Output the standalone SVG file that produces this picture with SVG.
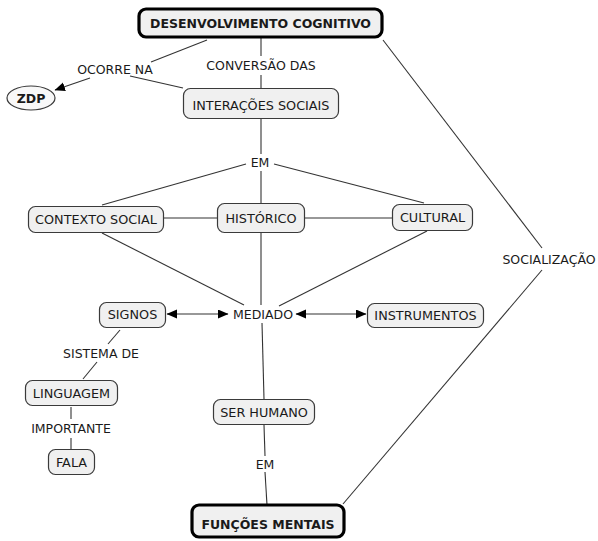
<svg xmlns="http://www.w3.org/2000/svg" width="598" height="541" viewBox="0 0 598 541">
<style>
.n rect, .n ellipse { fill: #f0f0f0; stroke: #3a3a3a; stroke-width: 1.2; }
.n ellipse { fill: #f8f8f8; }
.main rect { stroke: #000; stroke-width: 3.2; }
text { font-family: "DejaVu Sans", Verdana, sans-serif; font-size: 12.5px; fill: #1a1a1a; text-anchor: middle; }
.n text { font-size: 12.8px; }
.n text.b { font-size: 12.5px; }
.b { font-weight: bold; }
.c line { stroke: #333; stroke-width: 1.1; fill: none; }
</style>
<defs>
<marker id="ah" markerUnits="userSpaceOnUse" markerWidth="11" markerHeight="10" refX="10" refY="4.5" orient="auto-start-reverse" viewBox="0 0 11 10">
<path d="M0,0 L10.5,4.5 L0,9 z" fill="#000"/>
</marker>
</defs>
<rect width="598" height="541" fill="#fff"/>
<g class="c" id="connectors">
<line x1="207" y1="40" x2="151" y2="62"/>
<line x1="130" y1="76" x2="183" y2="88"/>
<line x1="90" y1="78" x2="55" y2="90" marker-end="url(#ah)"/>
<line x1="261" y1="38" x2="261" y2="56"/>
<line x1="261" y1="75" x2="261" y2="88"/>
<line x1="261" y1="119" x2="261" y2="154"/>
<line x1="261" y1="171" x2="261" y2="203"/>
<line x1="246" y1="164" x2="102" y2="205"/>
<line x1="274" y1="164" x2="424" y2="203"/>
<line x1="164" y1="218" x2="217" y2="218"/>
<line x1="305" y1="218" x2="392" y2="218"/>
<line x1="102" y1="233" x2="244" y2="305"/>
<line x1="427" y1="231" x2="279" y2="306"/>
<line x1="261" y1="233" x2="261" y2="305"/>
<line x1="262" y1="323" x2="264" y2="399"/>
<line x1="167" y1="314" x2="228" y2="314" marker-start="url(#ah)" marker-end="url(#ah)"/>
<line x1="296" y1="314" x2="366" y2="314" marker-start="url(#ah)" marker-end="url(#ah)"/>
<line x1="120" y1="330" x2="108" y2="344"/>
<line x1="97" y1="362" x2="83" y2="379"/>
<line x1="71" y1="407" x2="71" y2="419"/>
<line x1="71" y1="438" x2="71" y2="449"/>
<line x1="264" y1="425" x2="265" y2="456"/>
<line x1="265" y1="472" x2="267" y2="505"/>
<line x1="383" y1="40" x2="542" y2="248"/>
<line x1="542" y1="270" x2="343" y2="504"/>
</g>
<g id="labels">
<text x="115" y="74">OCORRE NA</text>
<text x="261" y="69.5">CONVERSÃO DAS</text>
<text x="260" y="166.5">EM</text>
<text x="263" y="318.5">MEDIADO</text>
<text x="101" y="357.5">SISTEMA DE</text>
<text x="71" y="432.5">IMPORTANTE</text>
<text x="265" y="468.5">EM</text>
<text x="549" y="263.5">SOCIALIZAÇÃO</text>
</g>
<g id="desenvolvimento" class="n main">
<rect x="139" y="9" width="243" height="28" rx="7"/>
<text class="b" x="260.5" y="27.5">DESENVOLVIMENTO COGNITIVO</text>
</g>
<g id="zdp" class="n">
<ellipse cx="31" cy="98" rx="24" ry="12"/>
<text class="b" x="31" y="102.5">ZDP</text>
</g>
<g id="interacoes" class="n">
<rect x="183.5" y="88.5" width="155" height="30" rx="7"/>
<text x="261" y="109.5">INTERAÇÕES SOCIAIS</text>
</g>
<g id="contexto" class="n">
<rect x="28.5" y="206.5" width="135" height="26" rx="7"/>
<text x="96" y="224">CONTEXTO SOCIAL</text>
</g>
<g id="historico" class="n">
<rect x="217.5" y="203.5" width="87" height="29" rx="7"/>
<text x="261" y="223">HISTÓRICO</text>
</g>
<g id="cultural" class="n">
<rect x="392.5" y="204.5" width="80" height="26" rx="7"/>
<text x="432.5" y="222">CULTURAL</text>
</g>
<g id="signos" class="n">
<rect x="99.5" y="302.5" width="66" height="25" rx="7"/>
<text x="132.5" y="319">SIGNOS</text>
</g>
<g id="instrumentos" class="n">
<rect x="367.5" y="303.5" width="116" height="24" rx="7"/>
<text x="425.5" y="320">INSTRUMENTOS</text>
</g>
<g id="linguagem" class="n">
<rect x="25.5" y="380.5" width="92" height="25" rx="7"/>
<text x="71.5" y="397.5">LINGUAGEM</text>
</g>
<g id="fala" class="n">
<rect x="48.5" y="449.5" width="46" height="25" rx="7"/>
<text x="71.5" y="466.5">FALA</text>
</g>
<g id="serhumano" class="n">
<rect x="213.5" y="399.5" width="101" height="25" rx="7"/>
<text x="264" y="416.5">SER HUMANO</text>
</g>
<g id="funcoes" class="n main">
<rect x="192" y="505" width="152" height="32" rx="7"/>
<text class="b" x="268" y="528.5">FUNÇÕES MENTAIS</text>
</g>
</svg>
